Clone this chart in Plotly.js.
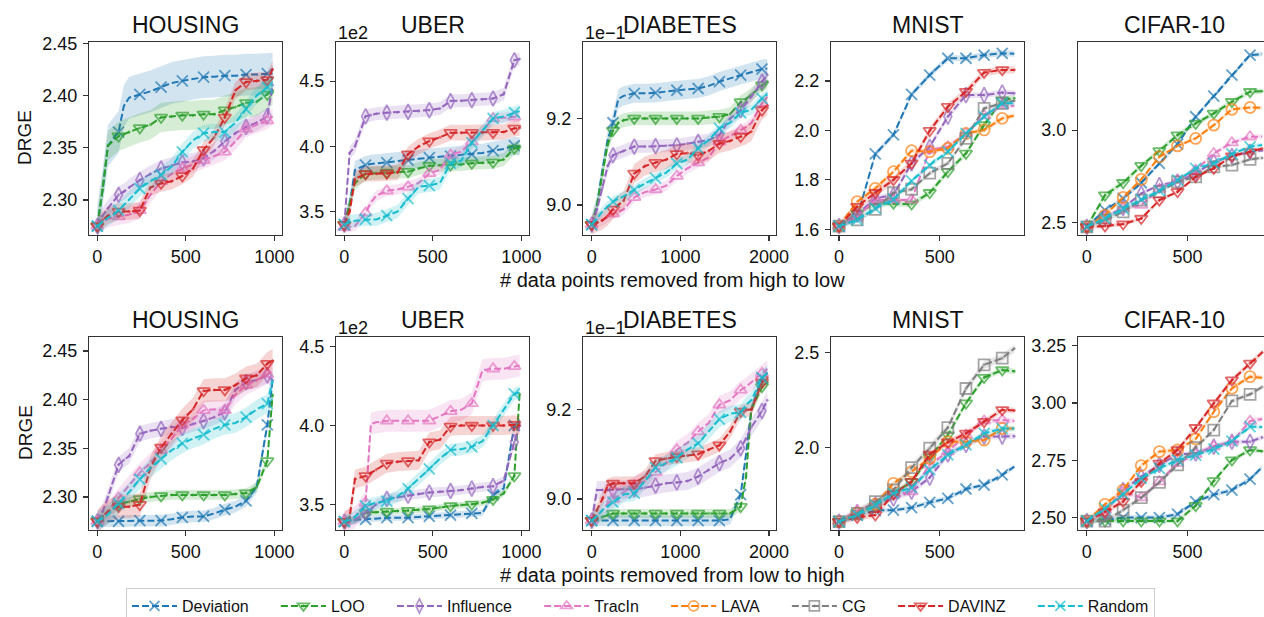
<!DOCTYPE html>
<html><head><meta charset="utf-8">
<script src="https://cdn.plot.ly/plotly-3.0.1.min.js"></script>
<style>html,body{margin:0;padding:0;overflow:hidden;background:#fff;width:1264px;height:617px}#chart{width:1280px;height:640px}</style>
</head><body><div id="chart"></div><script>
// ---------------- DATA ----------------
const seriesNames = ['Deviation','LOO','Influence','TracIn','LAVA','CG','DAVINZ','Random'];
const tabularSeries = ['Deviation','LOO','Influence','TracIn','DAVINZ','Random'];
const imageSeries = ['Deviation','LOO','Influence','TracIn','LAVA','CG','DAVINZ','Random'];

const gridHU = [0,30,60,120,150,180,240,300,360,420,480,540,600,660,720,780,840,900,960,990];
const gridD = [0,60,120,180,240,300,360,480,600,720,840,960,1080,1200,1320,1440,1560,1680,1740,1800,1920,1980];
const gridMC = [0,90,180,270,360,450,540,630,720,810,870];

// Row 1: removed from high to low
const housingHigh = [
  [2.275,2.31,2.352,2.365,2.390,2.398,2.401,2.404,2.408,2.412,2.414,2.416,2.4175,2.418,2.419,2.419,2.420,2.420,2.421,2.421],
  [2.275,2.31,2.352,2.361,2.363,2.365,2.369,2.372,2.379,2.380,2.381,2.381,2.382,2.382,2.386,2.389,2.393,2.394,2.401,2.405],
  [2.275,2.285,2.292,2.305,2.308,2.312,2.319,2.325,2.330,2.333,2.336,2.337,2.340,2.347,2.356,2.364,2.370,2.374,2.380,2.410],
  [2.275,2.279,2.282,2.284,2.285,2.286,2.290,2.305,2.318,2.325,2.330,2.334,2.338,2.342,2.346,2.356,2.368,2.372,2.376,2.380],
  [2.275,2.281,2.285,2.289,2.289,2.289,2.290,2.312,2.316,2.318,2.323,2.330,2.348,2.360,2.379,2.405,2.413,2.414,2.415,2.425],
  [2.275,2.279,2.283,2.290,2.295,2.300,2.311,2.318,2.324,2.332,2.346,2.357,2.364,2.365,2.365,2.374,2.387,2.400,2.408,2.410]
];
const housingHighBand = [0.02,0.014,0.008,0.008,0.008,0.008];

const uberHigh = [
  [3.40,3.55,3.82,3.857,3.865,3.870,3.875,3.885,3.895,3.905,3.913,3.920,3.926,3.932,3.939,3.950,3.967,3.980,4.005,4.00],
  [3.40,3.55,3.72,3.79,3.795,3.795,3.80,3.803,3.806,3.83,3.852,3.855,3.857,3.862,3.87,3.875,3.878,3.90,3.985,3.99],
  [3.40,3.95,4.00,4.23,4.24,4.25,4.258,4.262,4.265,4.27,4.278,4.29,4.347,4.35,4.354,4.36,4.367,4.40,4.66,4.67],
  [3.38,3.385,3.39,3.49,3.57,3.62,3.66,3.67,3.69,3.72,3.793,3.82,3.934,3.96,4.036,4.12,4.214,4.22,4.227,4.23],
  [3.40,3.50,3.75,3.79,3.79,3.79,3.793,3.80,3.94,4.0,4.041,4.07,4.105,4.105,4.105,4.105,4.105,4.11,4.138,4.14],
  [3.40,3.42,3.43,3.44,3.44,3.44,3.47,3.50,3.60,3.69,3.70,3.72,3.87,3.89,4.028,4.12,4.214,4.23,4.26,4.27]
];
const uberHighBand = [0.07,0.05,0.05,0.04,0.06,0.05];

const diabetesHigh = [
  [8.955,9.0,9.08,9.15,9.19,9.245,9.252,9.258,9.258,9.259,9.262,9.265,9.267,9.269,9.275,9.285,9.292,9.30,9.303,9.306,9.314,9.315],
  [8.955,9.0,9.07,9.14,9.172,9.19,9.196,9.20,9.20,9.20,9.20,9.20,9.20,9.20,9.202,9.204,9.21,9.238,9.245,9.255,9.277,9.285],
  [8.955,8.99,9.04,9.09,9.115,9.12,9.125,9.135,9.135,9.136,9.137,9.138,9.142,9.146,9.15,9.162,9.20,9.219,9.235,9.25,9.285,9.30],
  [8.955,8.96,8.965,8.972,8.98,8.985,8.99,9.018,9.03,9.036,9.045,9.067,9.085,9.098,9.11,9.146,9.16,9.173,9.18,9.19,9.235,9.25],
  [8.955,8.96,8.965,8.975,8.99,9.0,9.01,9.073,9.09,9.098,9.105,9.118,9.12,9.115,9.125,9.142,9.148,9.158,9.162,9.17,9.219,9.23],
  [8.955,8.97,8.985,8.997,9.008,9.015,9.02,9.035,9.05,9.062,9.075,9.096,9.105,9.131,9.15,9.177,9.19,9.213,9.217,9.22,9.246,9.255]
];
const diabetesHighBand = [0.022,0.016,0.015,0.012,0.022,0.012];

const mnistHigh = [
  [1.613,1.65,1.905,1.982,2.146,2.224,2.292,2.292,2.305,2.312,2.31],
  [1.613,1.665,1.705,1.705,1.702,1.748,1.833,1.907,2.022,2.123,2.13],
  [1.613,1.66,1.725,1.739,1.867,1.934,2.056,2.143,2.143,2.153,2.15],
  [1.613,1.65,1.719,1.719,1.719,1.921,1.934,1.988,2.06,2.10,2.10],
  [1.613,1.712,1.766,1.833,1.918,1.914,1.928,1.988,2.002,2.049,2.06],
  [1.613,1.638,1.681,1.748,1.762,1.827,1.867,1.968,2.089,2.11,2.12],
  [1.613,1.692,1.748,1.80,1.867,1.999,2.096,2.157,2.234,2.245,2.245],
  [1.613,1.638,1.685,1.721,1.796,1.86,1.914,1.988,2.056,2.11,2.11]
];
const mnistHighBand = [0.012,0.012,0.012,0.01,0.01,0.01,0.015,0.01];

const cifarHigh = [
  [2.478,2.568,2.631,2.716,2.82,2.924,3.072,3.183,3.297,3.405,3.41],
  [2.478,2.649,2.716,2.808,2.888,2.973,3.036,3.09,3.153,3.207,3.21],
  [2.478,2.529,2.58,2.658,2.703,2.721,2.766,2.829,2.86,2.883,2.89],
  [2.478,2.532,2.577,2.595,2.68,2.73,2.784,2.874,2.932,2.964,2.965],
  [2.478,2.541,2.637,2.734,2.856,2.915,2.955,3.027,3.112,3.122,3.12],
  [2.478,2.514,2.559,2.622,2.667,2.721,2.748,2.802,2.811,2.842,2.85],
  [2.478,2.482,2.493,2.523,2.622,2.667,2.748,2.793,2.86,2.883,2.90],
  [2.478,2.523,2.577,2.626,2.673,2.73,2.793,2.82,2.871,2.91,2.92]
];
const cifarHighBand = [0.012,0.015,0.01,0.012,0.01,0.01,0.01,0.012];

// Row 2: removed from low to high
const housingLow = [
  [2.275,2.275,2.275,2.275,2.275,2.275,2.2757,2.2757,2.2757,2.277,2.279,2.280,2.280,2.283,2.287,2.290,2.296,2.31,2.374,2.42],
  [2.275,2.280,2.285,2.292,2.294,2.295,2.298,2.300,2.301,2.302,2.302,2.302,2.302,2.302,2.302,2.303,2.304,2.31,2.337,2.405],
  [2.275,2.285,2.30,2.333,2.338,2.342,2.365,2.368,2.370,2.372,2.371,2.375,2.378,2.382,2.387,2.41,2.418,2.42,2.425,2.42],
  [2.275,2.28,2.285,2.299,2.305,2.312,2.325,2.335,2.348,2.36,2.374,2.38,2.389,2.39,2.389,2.405,2.415,2.42,2.426,2.43],
  [2.275,2.28,2.285,2.290,2.290,2.290,2.292,2.33,2.351,2.365,2.379,2.39,2.409,2.41,2.41,2.415,2.422,2.425,2.437,2.44],
  [2.275,2.278,2.282,2.293,2.299,2.305,2.318,2.33,2.339,2.348,2.355,2.36,2.364,2.37,2.374,2.376,2.382,2.39,2.396,2.42]
];
const housingLowBand = [0.006,0.005,0.008,0.01,0.012,0.01];

const uberLow = [
  [3.39,3.395,3.40,3.405,3.408,3.41,3.415,3.415,3.415,3.42,3.424,3.428,3.432,3.437,3.443,3.445,3.56,3.60,4.0,4.02],
  [3.39,3.395,3.40,3.445,3.45,3.45,3.455,3.458,3.46,3.465,3.47,3.48,3.49,3.495,3.50,3.51,3.53,3.57,3.68,4.2],
  [3.39,3.395,3.40,3.45,3.47,3.50,3.535,3.545,3.555,3.565,3.575,3.58,3.585,3.59,3.60,3.61,3.615,3.65,3.895,4.0],
  [3.39,3.40,3.42,3.51,4.01,4.02,4.03,4.03,4.03,4.03,4.03,4.06,4.09,4.10,4.14,4.35,4.36,4.36,4.375,4.38],
  [3.39,3.42,3.66,3.68,3.70,3.72,3.76,3.77,3.775,3.78,3.895,3.91,3.995,4.0,4.0,4.0,4.0,4.0,4.005,4.0],
  [3.39,3.40,3.42,3.49,3.50,3.51,3.52,3.55,3.60,3.66,3.725,3.79,3.845,3.85,3.865,3.90,4.0,4.1,4.2,4.21]
];
const uberLowBand = [0.02,0.02,0.03,0.07,0.06,0.04];

const diabetesLow = [
  [8.952,8.952,8.952,8.952,8.952,8.952,8.952,8.952,8.952,8.952,8.952,8.952,8.952,8.952,8.952,8.952,8.955,9.01,9.10,9.20,9.27,9.28],
  [8.952,8.956,8.96,8.965,8.968,8.968,8.968,8.968,8.968,8.968,8.968,8.968,8.968,8.968,8.968,8.968,8.968,8.983,9.05,9.20,9.25,9.26],
  [8.952,9.02,9.02,9.02,9.02,9.021,9.022,9.022,9.025,9.03,9.035,9.037,9.04,9.05,9.065,9.08,9.09,9.113,9.135,9.16,9.196,9.22],
  [8.952,8.962,8.975,8.99,9.0,9.008,9.015,9.03,9.04,9.06,9.08,9.11,9.125,9.15,9.17,9.21,9.22,9.243,9.25,9.26,9.28,9.29],
  [8.952,8.975,9.0,9.03,9.035,9.035,9.035,9.035,9.05,9.085,9.09,9.094,9.097,9.1,9.11,9.12,9.15,9.195,9.198,9.20,9.26,9.27],
  [8.952,8.962,8.975,8.985,8.993,9.0,9.01,9.013,9.04,9.07,9.08,9.092,9.11,9.124,9.15,9.178,9.19,9.193,9.21,9.22,9.27,9.28]
];
const diabetesLowBand = [0.012,0.01,0.02,0.02,0.015,0.018];

const mnistLow = [
  [1.612,1.645,1.67,1.672,1.685,1.713,1.734,1.783,1.804,1.857,1.90],
  [1.612,1.655,1.69,1.76,1.82,1.95,2.066,2.233,2.367,2.407,2.40],
  [1.612,1.66,1.70,1.734,1.769,1.843,1.965,2.014,2.058,2.058,2.06],
  [1.612,1.67,1.708,1.752,1.769,1.909,1.979,2.066,2.14,2.145,2.14],
  [1.612,1.656,1.703,1.813,1.874,1.944,2.031,2.031,2.04,2.10,2.10],
  [1.612,1.655,1.717,1.778,1.895,1.997,2.105,2.31,2.434,2.469,2.52],
  [1.612,1.633,1.647,1.755,1.822,1.965,2.028,2.075,2.136,2.198,2.195],
  [1.612,1.647,1.70,1.76,1.79,1.883,1.962,2.014,2.075,2.10,2.10]
];
const mnistLowBand = [0.012,0.015,0.015,0.015,0.012,0.02,0.015,0.015];

const cifarLow = [
  [2.485,2.49,2.50,2.50,2.50,2.515,2.57,2.60,2.62,2.668,2.72],
  [2.485,2.485,2.485,2.485,2.485,2.485,2.552,2.66,2.751,2.795,2.79],
  [2.485,2.525,2.62,2.679,2.73,2.776,2.78,2.81,2.831,2.831,2.85],
  [2.485,2.533,2.613,2.587,2.657,2.737,2.776,2.81,2.831,2.921,2.93],
  [2.485,2.558,2.62,2.727,2.788,2.795,2.843,2.962,3.064,3.115,3.11],
  [2.485,2.485,2.533,2.587,2.654,2.73,2.805,2.882,3.009,3.038,3.07],
  [2.485,2.525,2.57,2.657,2.737,2.795,2.892,2.999,3.10,3.173,3.22],
  [2.485,2.54,2.602,2.671,2.715,2.751,2.773,2.799,2.834,2.897,2.895]
];
const cifarLowBand = [0.01,0.01,0.01,0.012,0.01,0.01,0.012,0.01];

const panelTitles = ['HOUSING','UBER','DIABETES','MNIST','CIFAR-10'];
const xAxisLabels = ['# data points removed from high to low', '# data points removed from low to high'];
const yAxisLabel = 'DRGE';

// ---------------- STYLE ----------------
const colors = {Deviation:'#1f77b4', LOO:'#2ca02c', Influence:'#9467bd', TracIn:'#e377c2',
                LAVA:'#ff7f0e', CG:'#7f7f7f', DAVINZ:'#d62728', Random:'#17becf'};
const symbols = {Deviation:'x-thin-open', LOO:'triangle-down-open-dot', Influence:'diamond-tall-open-dot',
                 TracIn:'triangle-up-open', LAVA:'circle-open', CG:'square-open-dot',
                 DAVINZ:'triangle-down-open-dot', Random:'x-thin-open'};
function rgba(hex, a){const n=parseInt(hex.slice(1),16);return `rgba(${n>>16},${(n>>8)&255},${n&255},${a})`;}
const legendPad = '\u00a0'.repeat(5);

const W = 1280, H = 640;   // canvas larger than the 1264x617 window; overflow is cropped like the reference
const FONT = '"Liberation Sans", Arial, Helvetica, sans-serif';
const colPx = [[89,282],[336,529],[583,776],[831,1024],[1078,1271]];
const rowPx = [[41.7,235],[337,530]];

const panels = [
  {row:0,col:0,grid:gridHU,names:tabularSeries,vals:housingHigh,band:housingHighBand,xr:[-47,1043],yr:[2.2665,2.4515],xt:[0,500,1000],yt:[2.30,2.35,2.40,2.45],fmt:'.2f',step:120},
  {row:0,col:1,grid:gridHU,names:tabularSeries,vals:uberHigh,band:uberHighBand,xr:[-47,1043],yr:[3.321,4.802],xt:[0,500,1000],yt:[3.5,4.0,4.5],fmt:'.1f',step:120,expo:'1e2'},
  {row:0,col:2,grid:gridD,names:tabularSeries,vals:diabetesHigh,band:diabetesHighBand,xr:[-98,2078],yr:[8.931,9.377],xt:[0,1000,2000],yt:[9.0,9.2],fmt:'.1f',step:240,expo:'1e\u22121'},
  {row:0,col:3,grid:gridMC,names:imageSeries,vals:mnistHigh,band:mnistHighBand,xr:[-40,918],yr:[1.577,2.359],xt:[0,500],yt:[1.6,1.8,2.0,2.2],fmt:'.1f',step:90,legend:true},
  {row:0,col:4,grid:gridMC,names:imageSeries,vals:cifarHigh,band:cifarHighBand,xr:[-44,914],yr:[2.434,3.477],xt:[0,500],yt:[2.5,3.0],fmt:'.1f',step:90},
  {row:1,col:0,grid:gridHU,names:tabularSeries,vals:housingLow,band:housingLowBand,xr:[-47,1043],yr:[2.266,2.4644],xt:[0,500,1000],yt:[2.30,2.35,2.40,2.45],fmt:'.2f',step:120},
  {row:1,col:1,grid:gridHU,names:tabularSeries,vals:uberLow,band:uberLowBand,xr:[-47,1043],yr:[3.337,4.5615],xt:[0,500,1000],yt:[3.5,4.0,4.5],fmt:'.1f',step:120,expo:'1e2'},
  {row:1,col:2,grid:gridD,names:tabularSeries,vals:diabetesLow,band:diabetesLowBand,xr:[-98,2078],yr:[8.931,9.361],xt:[0,1000,2000],yt:[9.0,9.2],fmt:'.1f',step:240,expo:'1e\u22121'},
  {row:1,col:3,grid:gridMC,names:imageSeries,vals:mnistLow,band:mnistLowBand,xr:[-40,918],yr:[1.568,2.580],xt:[0,500],yt:[2.0,2.5],fmt:'.1f',step:90},
  {row:1,col:4,grid:gridMC,names:imageSeries,vals:cifarLow,band:cifarLowBand,xr:[-44,914],yr:[2.446,3.288],xt:[0,500],yt:[2.50,2.75,3.00,3.25],fmt:'.2f',step:90}
];

const traces = [];
const layout = {
  width: W, height: H, margin:{l:0,r:0,t:0,b:0}, paper_bgcolor:'#fff', plot_bgcolor:'#fff',
  font:{family:FONT, color:'#111'}, showlegend:true, annotations:[], hovermode:false,
  legend:{orientation:'h', x:640.5/W, xanchor:'center', y:1-588/H, yanchor:'top',
          bordercolor:'#cccccc', borderwidth:1, bgcolor:'#ffffff', font:{size:16,color:'#111',family:FONT},
          itemwidth:45, traceorder:'normal', itemclick:false, itemdoubleclick:false}
};

panels.forEach((p, k) => {
  const n = k + 1;
  const xa = 'x' + (n === 1 ? '' : n), ya = 'y' + (n === 1 ? '' : n);
  const xk = 'xaxis' + (n === 1 ? '' : n), yk = 'yaxis' + (n === 1 ? '' : n);
  const [xl, xr] = colPx[p.col], [yt, yb] = rowPx[p.row];
  const axCommon = {showline:true, mirror:true, linecolor:'#333', linewidth:1.2, ticks:'outside', ticklen:5,
                    tickwidth:1.2, tickcolor:'#333', showgrid:false, zeroline:false,
                    tickfont:{size:18, color:'#111', family:FONT}, fixedrange:true};
  layout[xk] = Object.assign({}, axCommon, {domain:[xl/W, xr/W], range:p.xr, tickvals:p.xt, anchor:ya});
  layout[yk] = Object.assign({}, axCommon, {domain:[1-yb/H, 1-yt/H], range:p.yr, tickvals:p.yt, tickformat:p.fmt, anchor:xa, ticklabelstandoff:2});
  p.names.forEach((name, i) => {
    const ys = p.vals[i], hw = p.band[i];
    const up = ys.map(v => v + hw), lo = ys.map(v => v - hw);
    traces.push({type:'scatter', mode:'lines', xaxis:xa, yaxis:ya, x:p.grid.concat(p.grid.slice().reverse()),
      y:up.concat(lo.slice().reverse()), fill:'toself', fillcolor:rgba(colors[name],0.2),
      line:{width:0,color:'rgba(0,0,0,0)'}, showlegend:false, hoverinfo:'skip'});
    const last = i === p.names.length - 1;
    traces.push({type:'scatter', mode:'lines+markers', xaxis:xa, yaxis:ya, x:p.grid, y:ys,
      name: name + (last ? '' : legendPad),
      showlegend:!!p.legend, line:{color:colors[name], width:2, dash:'7px,3px'},
      marker:{symbol:symbols[name], color:colors[name], size:p.grid.map(x => x % p.step === 0 ? 11 : 0),
              line:{color:colors[name], width:1.8}}});
  });
  layout.annotations.push({xref:'paper', yref:'paper', x:(xl+xr)/2/W, y:1-(yt-2)/H, yanchor:'bottom', xanchor:'center',
    text:panelTitles[p.col], showarrow:false, font:{size:23, color:'#111', family:FONT}});
  if (p.expo) {
    layout.annotations.push({xref:'paper', yref:'paper', x:xl/W, y:1-(yt+3)/H, yanchor:'bottom', xanchor:'left',
      text:p.expo, showarrow:false, font:{size:18, color:'#111', family:FONT}});
  }
});

[ [138, 280], [433, 575] ].forEach((pos, r) => {
  layout.annotations.push({xref:'paper', yref:'paper', x:25/W, y:1-pos[0]/H, xanchor:'center', yanchor:'middle',
    text:yAxisLabel, textangle:-90, showarrow:false, font:{size:19, color:'#111', family:FONT}});
  layout.annotations.push({xref:'paper', yref:'paper', x:672/W, y:1-pos[1]/H, xanchor:'center', yanchor:'middle',
    text:xAxisLabels[r], showarrow:false, font:{size:20, color:'#111', family:FONT}});
});

Plotly.newPlot('chart', traces, layout, {staticPlot:true, displayModeBar:false});
</script></body></html>
